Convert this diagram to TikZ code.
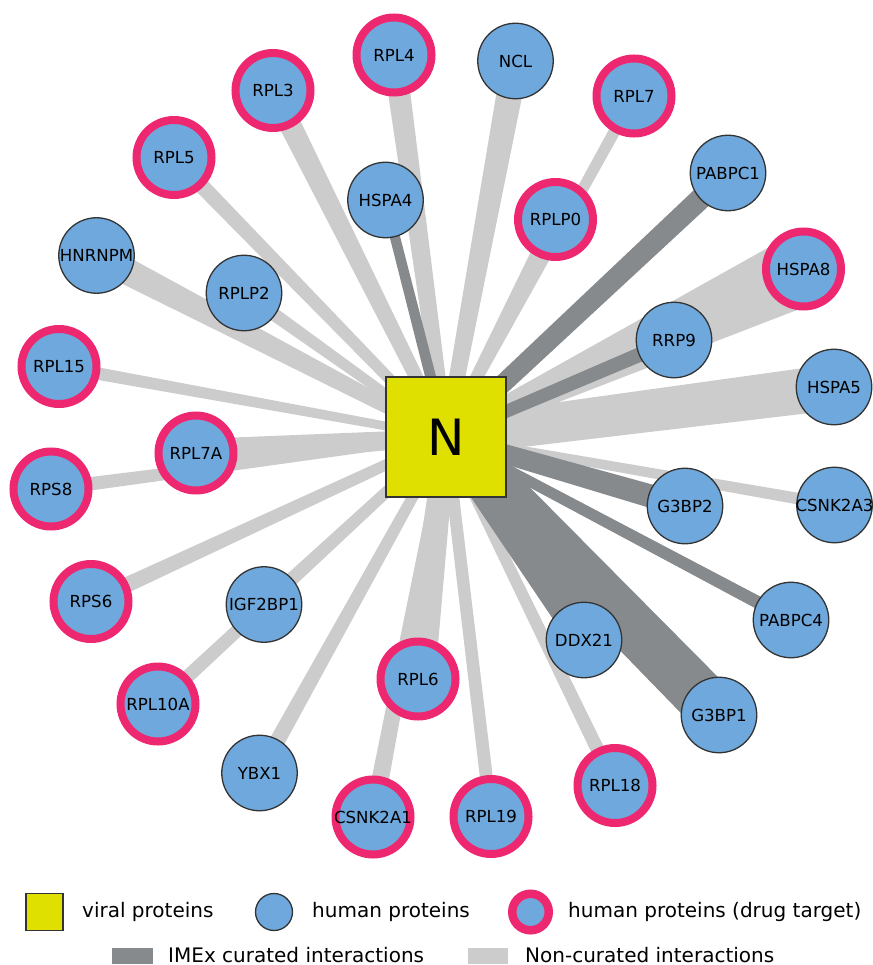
\documentclass[tikz,border=0pt]{standalone}
\usepackage{fontspec}
\setmainfont{DejaVu Sans}
\usetikzlibrary{calc,backgrounds}
\definecolor{hblue}{RGB}{111,168,220}
\definecolor{pinkr}{RGB}{238,40,112}
\definecolor{vyel}{RGB}{224,224,0}
\definecolor{edark}{RGB}{134,138,140}
\definecolor{elight}{RGB}{204,204,204}
\definecolor{bord}{RGB}{51,51,51}
% tapered edge: #1 node, #2 colour, #3 half width at N, #4 half width at node
\newcommand\edgeW[4]{\fill[#2] ($(N.center)!#3pt!90:(#1.center)$) -- ($(#1.center)!#4pt!-90:(N.center)$) -- ($(#1.center)!#4pt!90:(N.center)$) -- ($(N.center)!#3pt!-90:(#1.center)$) -- cycle;}
\newcommand\lbl[1]{\makebox[0pt]{#1}}
\tikzset{
  hum/.style={circle, fill=hblue, draw=bord, line width=1.3pt, minimum size=75.5pt, inner sep=0pt, font=\fontsize{16.6}{18}\selectfont},
  drug/.style={circle, fill=hblue, draw=pinkr, line width=8pt, minimum size=75pt, inner sep=0pt, font=\fontsize{16.6}{18}\selectfont},
  viral/.style={rectangle, fill=vyel, draw=bord, line width=1.6pt, minimum size=120pt, inner sep=0pt, font=\fontsize{50}{56}\selectfont},
  legtxt/.style={anchor=base west, inner sep=0pt, font=\fontsize{20}{24}\selectfont},
}
\begin{document}
\begin{tikzpicture}[x=1pt,y=-1pt]
\useasboundingbox (0,0) rectangle (872,965);
\node[viral] (N) at (446,437) {N};
\node[drug] (RPL4) at (394,55) {\lbl{RPL4}};
\node[hum] (NCL) at (515.5,61) {\lbl{NCL}};
\node[drug] (RPL3) at (273,90.5) {\lbl{RPL3}};
\node[drug] (RPL7) at (634,96) {\lbl{RPL7}};
\node[drug] (RPL5) at (174,157.5) {\lbl{RPL5}};
\node[hum] (HSPA4) at (385.5,200) {\lbl{HSPA4}};
\node[drug] (RPLP0) at (555.5,219.5) {\lbl{RPLP0}};
\node[hum] (PABPC1) at (728,173) {\lbl{PABPC1}};
\node[hum] (HNRNPM) at (96.5,255.5) {\lbl{HNRNPM}};
\node[hum] (RPLP2) at (244,293) {\lbl{RPLP2}};
\node[drug] (HSPA8) at (803.5,269) {\lbl{HSPA8}};
\node[hum] (RRP9) at (674,340) {\lbl{RRP9}};
\node[drug] (RPL15) at (59,366.5) {\lbl{RPL15}};
\node[hum] (HSPA5) at (834,387) {\lbl{HSPA5}};
\node[drug] (RPL7A) at (196,453) {\lbl{RPL7A}};
\node[drug] (RPS8) at (51,489) {\lbl{RPS8}};
\node[hum] (G3BP2) at (685,506) {\lbl{G3BP2}};
\node[hum] (CSNK2A3) at (834.5,505) {\lbl{CSNK2A3}};
\node[drug] (RPS6) at (91,601.5) {\lbl{RPS6}};
\node[hum] (IGF2BP1) at (264,604.5) {\lbl{IGF2BP1}};
\node[hum] (PABPC4) at (791,620) {\lbl{PABPC4}};
\node[hum] (DDX21) at (584,640) {\lbl{DDX21}};
\node[drug] (RPL6) at (418,679) {\lbl{RPL6}};
\node[drug] (RPL10A) at (158,704) {\lbl{RPL10A}};
\node[hum] (G3BP1) at (719,715) {\lbl{G3BP1}};
\node[hum] (YBX1) at (259.5,773) {\lbl{YBX1}};
\node[drug] (CSNK2A1) at (373,817) {\lbl{CSNK2A1}};
\node[drug] (RPL19) at (491,816.5) {\lbl{RPL19}};
\node[drug] (RPL18) at (615,785.5) {\lbl{RPL18}};
\begin{scope}[on background layer]
\edgeW{RPL4}{elight}{7}{11.5}
\edgeW{NCL}{elight}{7}{13.5}
\edgeW{RPL3}{elight}{6}{11.5}
\edgeW{RPL7}{elight}{4}{6}
\edgeW{RPL5}{elight}{5}{8}
\edgeW{RPLP0}{elight}{5}{8}
\edgeW{HNRNPM}{elight}{6}{14}
\edgeW{RPLP2}{elight}{4}{7}
\edgeW{HSPA8}{elight}{8}{36}
\edgeW{RPL15}{elight}{4}{6.5}
\edgeW{HSPA5}{elight}{19}{23}
\edgeW{RPL7A}{elight}{8}{14}
\edgeW{RPS8}{elight}{4}{7}
\edgeW{CSNK2A3}{elight}{4}{6}
\edgeW{RPS6}{elight}{5}{8}
\edgeW{IGF2BP1}{elight}{5}{7}
\edgeW{RPL6}{elight}{10}{17}
\edgeW{RPL10A}{elight}{5}{7}
\edgeW{YBX1}{elight}{5}{8}
\edgeW{CSNK2A1}{elight}{5}{9}
\edgeW{RPL19}{elight}{6}{6.5}
\edgeW{RPL18}{elight}{5}{7}
\edgeW{HSPA4}{edark}{5.5}{5}
\edgeW{PABPC1}{edark}{9}{11}
\edgeW{RRP9}{edark}{6}{7.5}
\edgeW{G3BP2}{edark}{9}{12}
\edgeW{PABPC4}{edark}{5}{6.5}
\edgeW{DDX21}{edark}{13}{14}
\edgeW{G3BP1}{edark}{24}{26}
\end{scope}
% legend
\node[draw=bord, fill=vyel, line width=1.3pt, minimum width=37pt, minimum height=37pt, inner sep=0pt] (lgV) at (44.5,912) {};
\node[legtxt] (lgVt) at (82,917) {viral proteins};
\node[circle, fill=hblue, draw=bord, line width=1.3pt, minimum size=37pt, inner sep=0pt] (lgH) at (274,912) {};
\node[legtxt] (lgHt) at (312,917) {human proteins};
\node[circle, fill=hblue, draw=pinkr, line width=8.5pt, minimum size=36.5pt, inner sep=0pt] (lgD) at (530.5,912) {};
\node[legtxt] (lgDt) at (568,917) {human proteins (drug target)};
\node[fill=edark, minimum width=41pt, minimum height=16pt, inner sep=0pt] (lgI) at (132.5,956) {};
\node[legtxt] (lgIt) at (168,962) {IMEx curated interactions};
\node[fill=elight, minimum width=40pt, minimum height=16pt, inner sep=0pt] (lgC) at (488,956) {};
\node[legtxt] (lgCt) at (525,962) {Non-curated interactions};
\end{tikzpicture}
\end{document}
